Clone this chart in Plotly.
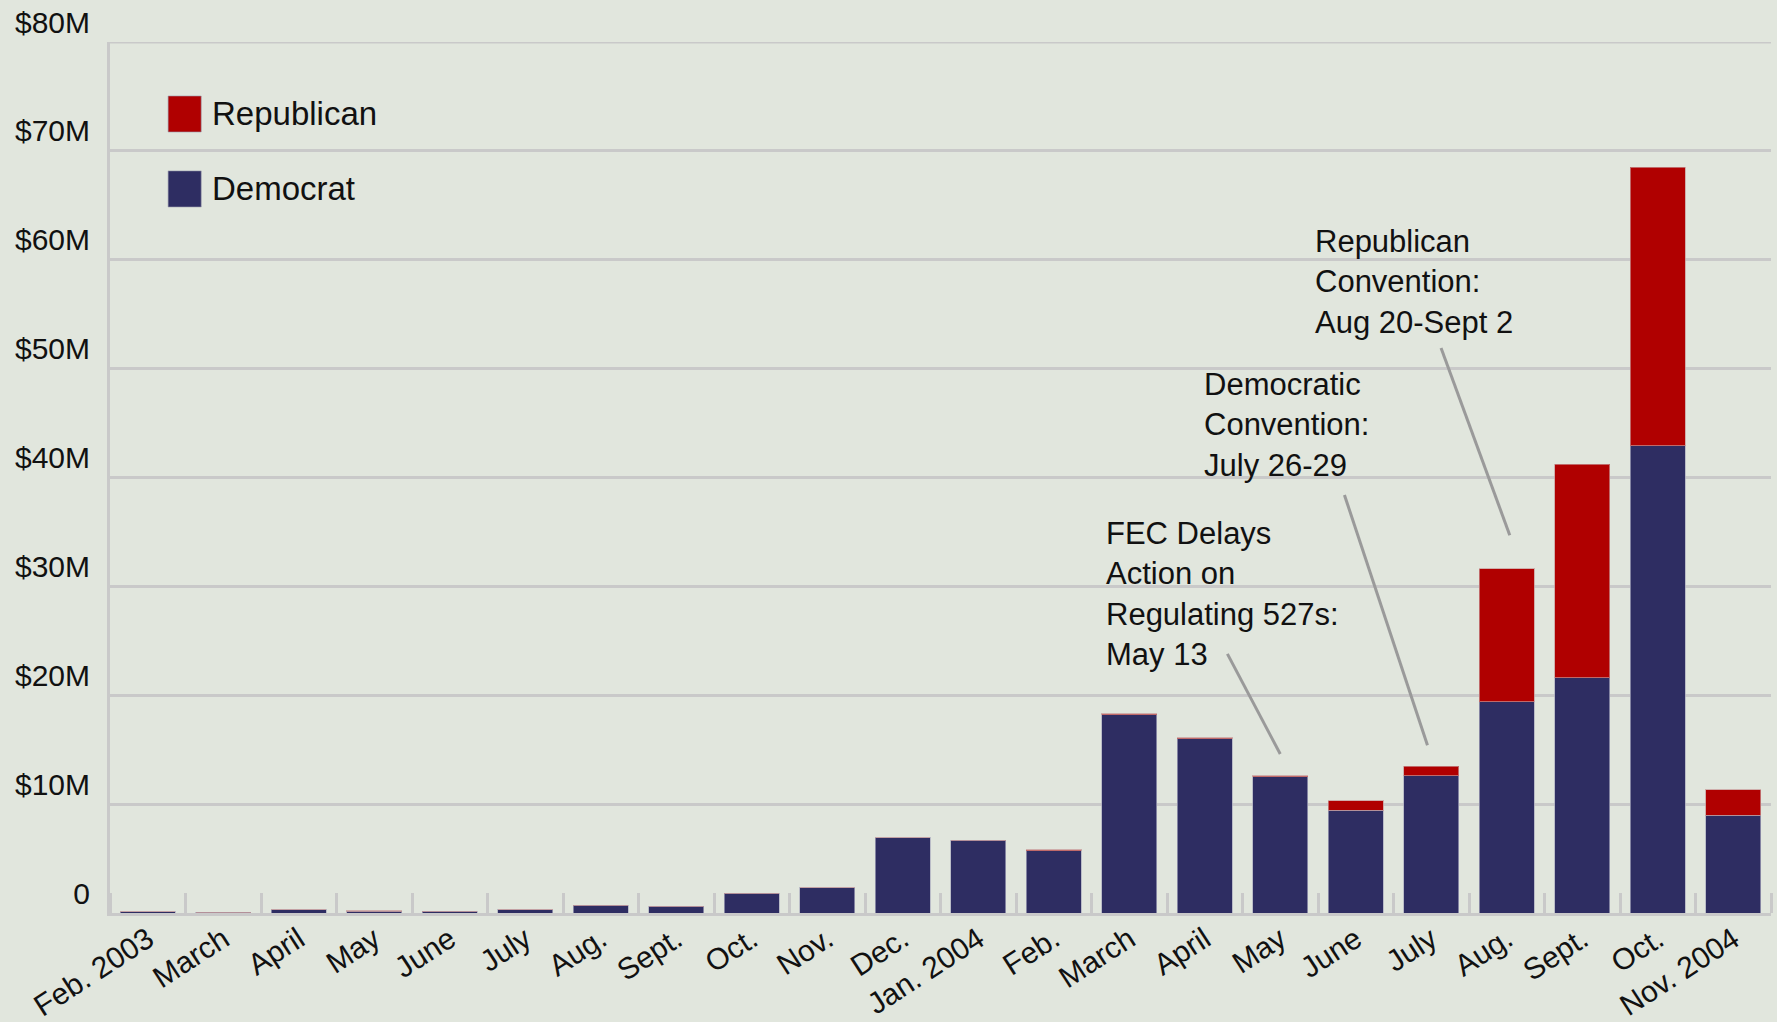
import plotly.graph_objects as go

# ---- data ($ millions) ----
months = ["Feb. 2003", "March", "April", "May", "June", "July", "Aug.", "Sept.",
          "Oct.", "Nov.", "Dec.", "Jan. 2004", "Feb.", "March", "April", "May",
          "June", "July", "Aug.", "Sept.", "Oct.", "Nov. 2004"]
democrat = [0.1, 0.08, 0.28, 0.18, 0.15, 0.28, 0.7, 0.6, 1.8, 2.3, 6.9, 6.7,
            5.7, 18.2, 16.0, 12.5, 9.45, 12.6, 19.4, 21.6, 42.9, 9.0]
republican = [0.0, 0.0, 0.0, 0.05, 0.0, 0.0, 0.0, 0.0, 0.0, 0.0, 0.0, 0.0,
              0.1, 0.1, 0.1, 0.1, 0.85, 0.9, 12.2, 19.6, 25.6, 2.3]
y_ticks = [0, 10, 20, 30, 40, 50, 60, 70, 80]
y_tick_text = ["0", "$10M", "$20M", "$30M", "$40M", "$50M", "$60M", "$70M", "$80M"]

# annotations: text, anchor (x index, y $M), leader line (x0,y0)->(x1,y1)
notes = [
    ("FEC Delays<br>Action on<br>Regulating 527s:<br>May 13", 12.67, 29.3, (14.3, 23.8, 15.0, 14.6)),
    ("Democratic<br>Convention:<br>July 26-29", 13.97, 44.8, (15.85, 38.4, 16.95, 15.4)),
    ("Republican<br>Convention:<br>Aug 20-Sept 2", 15.44, 58.0, (17.13, 51.9, 18.04, 34.7)),
]

BG = "#e1e6dd"
RED = "#b00000"
NAVY = "#2e2d62"
GRID = "#c9c9c9"
FONT = "Liberation Sans, Arial, Helvetica, sans-serif"

x = list(range(len(months)))

fig = go.Figure()
fig.add_trace(go.Bar(x=x, y=democrat, name="Democrat", marker=dict(color=NAVY, line=dict(color="rgba(170,170,190,0.7)", width=1))))
fig.add_trace(go.Bar(x=x, y=republican, name="Republican", marker=dict(color=RED, line=dict(color="rgba(200,150,150,0.7)", width=1))))

shapes = []
annotations = []
# top gridline at the range edge
shapes.append(dict(type="line", xref="paper", yref="y", x0=0, x1=1, y0=y_ticks[-1], y1=y_ticks[-1],
                   line=dict(color=GRID, width=3), layer="below"))
for text, ax, ay, (x0, y0, x1, y1) in notes:
    annotations.append(dict(x=ax, y=ay, xref="x", yref="y", text=text, showarrow=False,
                            xanchor="left", yanchor="middle", align="left",
                            font=dict(size=31, color="#111111", family=FONT)))
    shapes.append(dict(type="line", xref="x", yref="y", x0=x0, y0=y0, x1=x1, y1=y1,
                       line=dict(color="#9a9a9a", width=3)))

# custom legend
legend_items = [("Republican", RED, 0.8967, 0.938), ("Democrat", NAVY, 0.8106, 0.852)]
for name, col, yb, yt in legend_items:
    shapes.append(dict(type="rect", xref="paper", yref="paper", x0=0.035, x1=0.0549, y0=yb, y1=yt,
                       fillcolor=col, line=dict(color="rgba(150,150,170,0.6)", width=1)))
    annotations.append(dict(x=0.0605, y=(yb + yt) / 2, xref="paper", yref="paper", text=name,
                            showarrow=False, xanchor="left", yanchor="middle",
                            font=dict(size=33, color="#111111", family=FONT)))

fig.update_layout(
    width=1777, height=1022,
    barmode="stack", bargap=0.27,
    showlegend=False,
    paper_bgcolor=BG, plot_bgcolor=BG,
    margin=dict(l=110, r=6, t=42, b=109, autoexpand=False),
    font=dict(family=FONT, size=30, color="#111111"),
    shapes=shapes, annotations=annotations,
    xaxis=dict(range=[-0.5, len(months) - 0.5], tickmode="array", tickvals=x, ticktext=months,
               tickangle=-33, ticks="", showgrid=False, zeroline=False, automargin=False,
               showline=True, linecolor=GRID, linewidth=3,
               tickfont=dict(size=30, family=FONT, color="#111111"),
               ticklabelstandoff=-6,
               minor=dict(tick0=0.5, dtick=1, ticks="inside", ticklen=20, tickwidth=3,
                          tickcolor=GRID, showgrid=False)),
    yaxis=dict(range=[0, 80], tickmode="array", tickvals=y_ticks, ticktext=y_tick_text,
               showgrid=True, gridcolor=GRID, gridwidth=3, zeroline=False, automargin=False,
               showline=True, linecolor=GRID, linewidth=3, ticks="",
               ticklabelshift=-20, ticklabelstandoff=11,
               tickfont=dict(size=30, family=FONT, color="#111111")),
)

fig.write_html("out.html", config={"displayModeBar": False},
               post_script="document.body.style.margin='0';document.body.style.background='" + BG + "';")
